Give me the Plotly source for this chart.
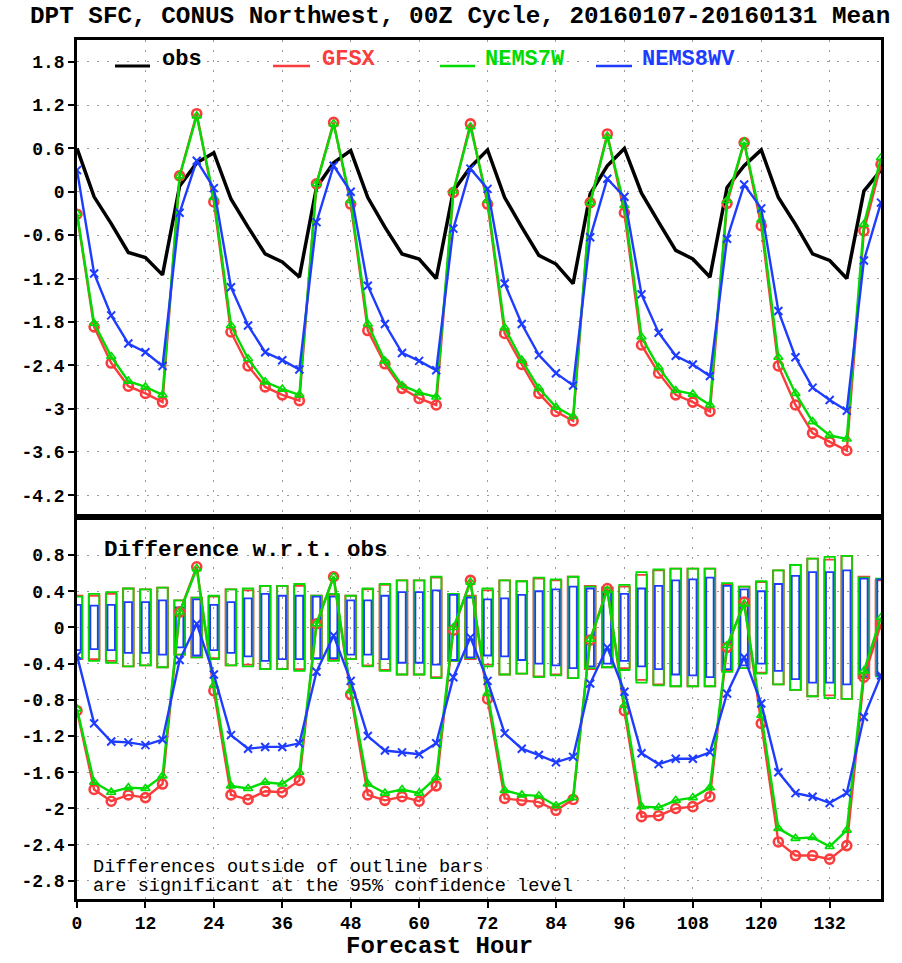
import plotly.graph_objects as go

# Forecast hours (3-hourly, 0-141)
hours = list(range(0, 142, 3))

# Mean 2-m dew point (top panel)
obs = [0.60, -0.07, -0.44, -0.84, -0.91, -1.15, 0.08, 0.40,
       0.54, -0.10, -0.49, -0.86, -0.97, -1.18, 0.06, 0.40,
       0.57, -0.08, -0.49, -0.86, -0.93, -1.20, 0.01, 0.34,
       0.58, -0.08, -0.49, -0.88, -1.00, -1.27, -0.03, 0.36,
       0.60, -0.02, -0.42, -0.81, -0.93, -1.18, 0.06, 0.36,
       0.58, -0.08, -0.45, -0.86, -0.95, -1.20, 0.01, 0.30]
gfsx = [-0.31, -1.87, -2.37, -2.69, -2.79, -2.91, 0.22, 1.08,
        -0.14, -1.94, -2.41, -2.70, -2.81, -2.89, 0.11, 0.96,
        -0.17, -1.92, -2.38, -2.72, -2.86, -2.95, -0.01, 0.94,
        -0.17, -1.96, -2.39, -2.79, -3.04, -3.17, -0.15, 0.80,
        -0.29, -2.12, -2.51, -2.81, -2.91, -3.04, -0.16, 0.68,
        -0.47, -2.41, -2.95, -3.34, -3.46, -3.58, -0.54, 0.38]
nems7w = [-0.30, -1.82, -2.28, -2.62, -2.70, -2.81, 0.22, 1.05,
          -0.08, -1.85, -2.31, -2.63, -2.73, -2.81, 0.11, 0.94,
          -0.12, -1.83, -2.34, -2.68, -2.78, -2.84, 0.01, 0.90,
          -0.12, -1.88, -2.33, -2.72, -2.98, -3.11, -0.15, 0.77,
          -0.19, -2.01, -2.43, -2.75, -2.80, -2.95, -0.12, 0.69,
          -0.39, -2.29, -2.79, -3.18, -3.37, -3.42, -0.45, 0.47]
nems8wv = [0.30, -1.13, -1.71, -2.10, -2.22, -2.41, -0.29, 0.43,
           0.05, -1.32, -1.85, -2.22, -2.33, -2.46, -0.42, 0.36,
           0.00, -1.30, -1.83, -2.23, -2.34, -2.47, -0.51, 0.32,
           0.04, -1.27, -1.83, -2.26, -2.51, -2.68, -0.63, 0.18,
           -0.07, -1.42, -1.95, -2.27, -2.39, -2.55, -0.65, 0.10,
           -0.23, -1.65, -2.29, -2.71, -2.88, -3.03, -0.95, -0.15]

# Difference with respect to obs (bottom panel)
diff_gfsx = [-0.92, -1.79, -1.92, -1.85, -1.88, -1.73, 0.17, 0.67,
             -0.70, -1.85, -1.90, -1.81, -1.82, -1.69, 0.04, 0.56,
             -0.74, -1.85, -1.91, -1.87, -1.92, -1.75, -0.03, 0.52,
             -0.79, -1.89, -1.91, -1.93, -2.02, -1.90, -0.14, 0.43,
             -0.92, -2.09, -2.08, -2.00, -1.98, -1.87, -0.22, 0.28,
             -1.06, -2.37, -2.52, -2.52, -2.56, -2.41, -0.55, 0.04]
diff_nems7w = [-0.90, -1.71, -1.82, -1.77, -1.78, -1.64, 0.17, 0.65,
               -0.64, -1.75, -1.78, -1.71, -1.73, -1.60, 0.04, 0.56,
               -0.70, -1.73, -1.83, -1.79, -1.83, -1.66, 0.00, 0.50,
               -0.73, -1.80, -1.85, -1.86, -1.97, -1.88, -0.13, 0.41,
               -0.86, -1.98, -1.99, -1.91, -1.88, -1.77, -0.20, 0.26,
               -0.97, -2.22, -2.33, -2.32, -2.42, -2.24, -0.48, 0.11]
diff_nems8wv = [-0.31, -1.06, -1.26, -1.27, -1.30, -1.24, -0.36, 0.04,
                -0.52, -1.19, -1.34, -1.32, -1.32, -1.28, -0.49, -0.09,
                -0.59, -1.20, -1.36, -1.38, -1.40, -1.28, -0.55, -0.11,
                -0.59, -1.17, -1.34, -1.41, -1.49, -1.43, -0.62, -0.22,
                -0.71, -1.39, -1.51, -1.45, -1.45, -1.38, -0.73, -0.33,
                -0.84, -1.60, -1.83, -1.87, -1.94, -1.83, -0.99, -0.53]

# 95% confidence half-widths (outline bars)
ci_gfsx = [0.35, 0.35, 0.37, 0.43, 0.42, 0.44, 0.30, 0.33,
           0.34, 0.42, 0.41, 0.46, 0.46, 0.46, 0.35, 0.36,
           0.35, 0.42, 0.47, 0.52, 0.52, 0.55, 0.37, 0.35,
           0.41, 0.52, 0.51, 0.54, 0.52, 0.56, 0.46, 0.44,
           0.45, 0.58, 0.63, 0.65, 0.65, 0.65, 0.47, 0.45,
           0.50, 0.63, 0.69, 0.76, 0.75, 0.79, 0.56, 0.52]
ci_nems7w = [0.34, 0.37, 0.39, 0.43, 0.42, 0.44, 0.30, 0.33,
             0.35, 0.42, 0.43, 0.46, 0.46, 0.48, 0.35, 0.37,
             0.35, 0.43, 0.48, 0.52, 0.52, 0.56, 0.37, 0.34,
             0.43, 0.52, 0.51, 0.55, 0.53, 0.56, 0.45, 0.44,
             0.47, 0.61, 0.64, 0.65, 0.65, 0.65, 0.49, 0.45,
             0.51, 0.63, 0.69, 0.76, 0.78, 0.79, 0.55, 0.54]
ci_nems8wv = [0.25, 0.24, 0.25, 0.28, 0.28, 0.30, 0.22, 0.31,
              0.25, 0.28, 0.32, 0.37, 0.35, 0.35, 0.34, 0.34,
              0.30, 0.30, 0.35, 0.39, 0.39, 0.41, 0.36, 0.33,
              0.31, 0.32, 0.36, 0.40, 0.42, 0.45, 0.43, 0.40,
              0.37, 0.43, 0.46, 0.52, 0.53, 0.55, 0.46, 0.42,
              0.40, 0.48, 0.57, 0.61, 0.61, 0.63, 0.54, 0.53]

top_ticks = [1.8, 1.2, 0.6, 0, -0.6, -1.2, -1.8, -2.4, -3, -3.6, -4.2]
top_ticktext = ["1.8", "1.2", "0.6", "0", "-0.6", "-1.2", "-1.8", "-2.4", "-3", "-3.6", "-4.2"]
bot_ticks = [0.8, 0.4, 0, -0.4, -0.8, -1.2, -1.6, -2, -2.4, -2.8]
bot_ticktext = ["0.8", "0.4", "0", "-0.4", "-0.8", "-1.2", "-1.6", "-2", "-2.4", "-2.8"]
x_ticks = list(range(0, 133, 12))

RED = "rgb(250,60,60)"
GREEN = "rgb(0,220,0)"
BLUE = "rgb(30,60,255)"
FONT = "Liberation Mono"

fig = go.Figure()

# outline bars: +/- half-width around zero
for ci, col, w in [(ci_gfsx, RED, 1.9), (ci_nems7w, GREEN, 1.8), (ci_nems8wv, BLUE, 1.3)]:
    fig.add_trace(go.Bar(
        x=hours, y=[2 * c for c in ci], base=[-c for c in ci], width=w,
        marker=dict(color="rgba(0,0,0,0)", line=dict(color=col, width=1.8)),
        xaxis="x", yaxis="y", showlegend=False, hoverinfo="skip"))

series_style = [
    (RED, "circle-open", 9, 2.6),
    (GREEN, "triangle-up-open", 8, 1.6),
    (BLUE, "x-thin-open", 8, 2.0),
]

# top panel
fig.add_trace(go.Scatter(x=hours, y=obs, mode="lines", line=dict(color="black", width=3.5),
                         xaxis="x2", yaxis="y2", showlegend=False))
for vals, (col, sym, sz, lw) in zip([gfsx, nems7w, nems8wv], series_style):
    fig.add_trace(go.Scatter(
        x=hours, y=vals, mode="lines+markers", line=dict(color=col, width=2.4),
        marker=dict(symbol=sym, size=sz, color=col, line=dict(color=col, width=lw)),
        xaxis="x2", yaxis="y2", showlegend=False))

# bottom panel
for vals, (col, sym, sz, lw) in zip([diff_gfsx, diff_nems7w, diff_nems8wv], series_style):
    fig.add_trace(go.Scatter(
        x=hours, y=vals, mode="lines+markers", line=dict(color=col, width=2.4),
        marker=dict(symbol=sym, size=sz, color=col, line=dict(color=col, width=lw)),
        xaxis="x", yaxis="y", showlegend=False))

L, R, T, B = 77, 881, 40, 899
W_PLOT, H_PLOT = R - L, B - T
SPLIT = 517
split_frac = (B - SPLIT) / H_PLOT


def px(x):
    return (x - L) / W_PLOT


def py(y):
    return (B - y) / H_PLOT


grid = dict(showgrid=True, gridcolor="#9a9a9a", gridwidth=1, griddash="2px,8px")
frame = dict(showline=True, linecolor="black", linewidth=2.6, mirror=True, zeroline=False)
tickfont = dict(family=FONT, size=18, color="black", weight="bold")

fig.update_layout(
    width=902, height=963,
    margin=dict(l=L, r=902 - R, t=T, b=963 - B),
    plot_bgcolor="white", paper_bgcolor="white",
    barmode="overlay", showlegend=False,
    xaxis=dict(domain=[0, 1], range=[0, 141], anchor="y", tickvals=x_ticks,
               ticktext=[str(v) for v in x_ticks], ticks="outside", ticklen=6, tickwidth=2,
               tickcolor="black", tickfont=tickfont, **grid, **frame),
    xaxis2=dict(domain=[0, 1], range=[0, 141], anchor="y2", matches="x", tickvals=x_ticks,
                showticklabels=False, ticks="", **grid, **frame),
    yaxis=dict(domain=[0, split_frac], range=[-3.0, 1.22], anchor="x", tickvals=bot_ticks,
               ticktext=bot_ticktext, ticks="outside", ticklen=6, tickwidth=2, tickcolor="black",
               tickfont=tickfont, **grid, **frame),
    yaxis2=dict(domain=[split_frac, 1], range=[-4.5, 2.1], anchor="x2", tickvals=top_ticks,
                ticktext=top_ticktext, ticks="outside", ticklen=6, tickwidth=2, tickcolor="black",
                tickfont=tickfont, **grid, **frame),
)

annotations = []
shapes = []


def text(x, y, s, size, color="black", bold=True, xanchor="left"):
    annotations.append(dict(
        x=px(x), y=py(y), xref="paper", yref="paper", text=s, showarrow=False,
        xanchor=xanchor, yanchor="middle",
        font=dict(family=FONT, size=size, color=color, weight="bold" if bold else "normal")))


text(460, 17, "DPT SFC, CONUS Northwest, 00Z Cycle, 20160107-20160131 Mean", 24.3, xanchor="center")

# legend
legend_items = [
    ("obs", "black", 115, 150, 160),
    ("GFSX", RED, 273, 310, 320),
    ("NEMS7W", GREEN, 440, 475, 483),
    ("NEMS8WV", BLUE, 596, 632, 640),
]
for name, col, x0, x1, xt in legend_items:
    shapes.append(dict(type="line", xref="paper", yref="paper", x0=px(x0), x1=px(x1),
                       y0=py(66), y1=py(66), line=dict(color=col, width=3 if col == "black" else 2.4)))
    text(xt, 60, name, 22, color=col)

text(102, 550, "Difference w.r.t. obs", 22.5)
text(91, 867, "Differences outside of outline bars", 18.6, bold=False)
text(91, 886, "are significant at the 95% confidence level", 18.6, bold=False)
text(439, 946, "Forecast Hour", 24, xanchor="center")

fig.update_layout(annotations=annotations, shapes=shapes)

fig.write_html("out.html")
